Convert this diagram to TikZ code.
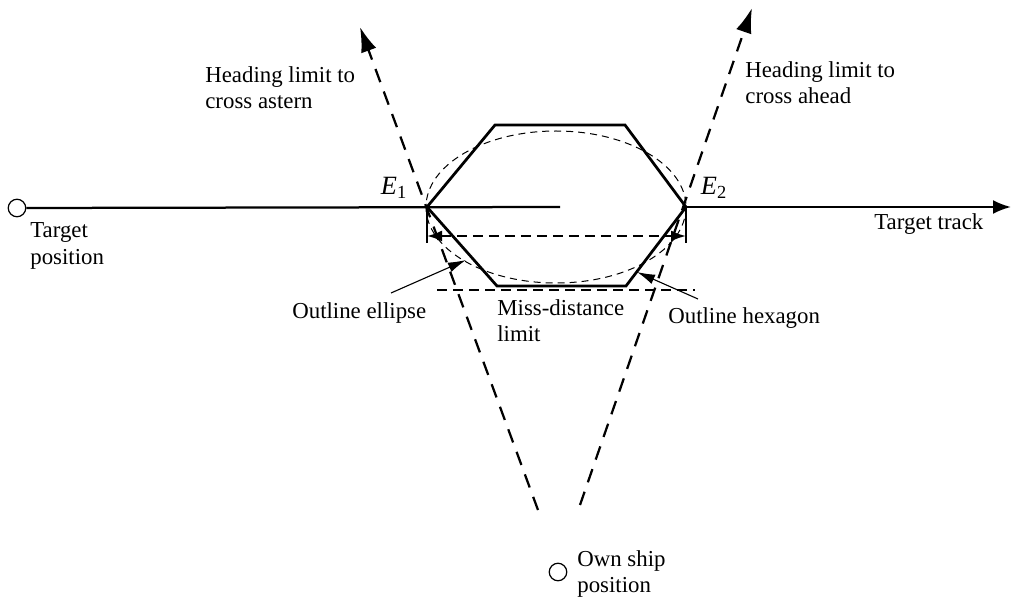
\documentclass[tikz,border=0pt]{standalone}
\usepackage{fontspec}
\setmainfont{Liberation Serif}
\usetikzlibrary{arrows.meta}

\tikzset{
	lbl/.style={font=\fontsize{13}{15}\selectfont, inner sep=0pt, align=left, anchor=west},
	elbl/.style={font=\fontsize{15}{17}\selectfont, inner sep=0pt},
	trackline/.style={line width=0.45mm},
	hexline/.style={line width=0.55mm, line join=miter},
	headline/.style={line width=0.45mm, dash pattern=on 2.8mm off 2mm, -{Latex[length=5mm, width=3.2mm]}},
	ellline/.style={line width=0.2mm, dash pattern=on 1.4mm off 1mm},
	missline/.style={line width=0.45mm, dash pattern=on 2mm off 1.2mm},
	pointer/.style={line width=0.22mm, -{Latex[length=3.6mm, width=2mm]}},
	posn/.style={circle, draw, line width=0.25mm, minimum size=3.5mm, inner sep=0pt}
}

\begin{document}
\begin{tikzpicture}[x=0.2mm, y=-0.2mm]
	\useasboundingbox (0,0) rectangle (1017,600);
	
	% positions
	\node[posn] (tgt) at (17,208) {};
	\node[posn] (own) at (558,572) {};
	
	% hexagon corners
	\coordinate (E1) at (427,207);
	\coordinate (E2) at (686,207);
	\coordinate (hexTL) at (495,125);
	\coordinate (hexTR) at (625,125);
	\coordinate (hexBR) at (626,286);
	\coordinate (hexBL) at (497,286);
	\coordinate (ellc) at (556,207);
	
	% target track
	\coordinate (trackmid) at (560,207);
	\coordinate (trackend) at (1011,207);
	\draw[trackline] (tgt.east) -- (trackmid);
	\draw[trackline, -{Latex[length=3.6mm, width=2.8mm]}] (E2) -- (trackend);
	
	% outline hexagon and ellipse
	\draw[hexline] (E1) -- (hexTL) -- (hexTR) -- (E2) -- (hexBR) -- (hexBL) -- cycle;
	\draw[ellline] (ellc) ellipse [x radius=130, y radius=76];
	
	% miss-distance limit
	\coordinate (E1low) at (427,243);
	\coordinate (E2low) at (686,243);
	\draw[line width=0.35mm] (E1) -- (E1low);
	\draw[line width=0.35mm] (E2) -- (E2low);
	\draw[missline, {Latex[length=3mm, width=2.2mm]}-{Latex[length=3mm, width=2.2mm]}] (427,236) -- (686,236);
	\coordinate (missL) at (437,290);
	\coordinate (missR) at (695,290);
	\draw[missline] (missL) -- (missR);
	
	% heading limits
	\coordinate (asternfoot) at (538,510);
	\coordinate (astern) at (360,27);
	\coordinate (aheadfoot) at (580,505);
	\coordinate (ahead) at (752,8);
	\draw[headline] (asternfoot) -- (astern);
	\draw[headline] (aheadfoot) -- (ahead);
	
	% labels
	\node[elbl] (lblE1) at (394,188) {\textit{E}\textsubscript{1}};
	\node[elbl] (lblE2) at (714,188) {\textit{E}\textsubscript{2}};
	\node[lbl] (lblastern) at (205,88) {Heading limit to\\cross astern};
	\node[lbl] (lblahead) at (745,83) {Heading limit to\\cross ahead};
	\node[lbl] (lbltgt) at (30,246) {Target\\position};
	\node[lbl] (lbltrack) at (874,224) {Target track};
	\node[lbl] (lblell) at (292,313) {Outline ellipse};
	\node[lbl] (lblmiss) at (497,321) {Miss-distance\\limit};
	\node[lbl] (lblhex) at (668,318) {Outline hexagon};
	\node[lbl] (lblown) at (577,574) {Own ship\\position};
	
	% pointers
	\coordinate (ellfrom) at (391,293);
	\coordinate (ellto) at (466,260);
	\coordinate (hexfrom) at (698,299);
	\coordinate (hexto) at (637,272);
	\draw[pointer] (ellfrom) -- (ellto);
	\draw[pointer] (hexfrom) -- (hexto);
\end{tikzpicture}
\end{document}
